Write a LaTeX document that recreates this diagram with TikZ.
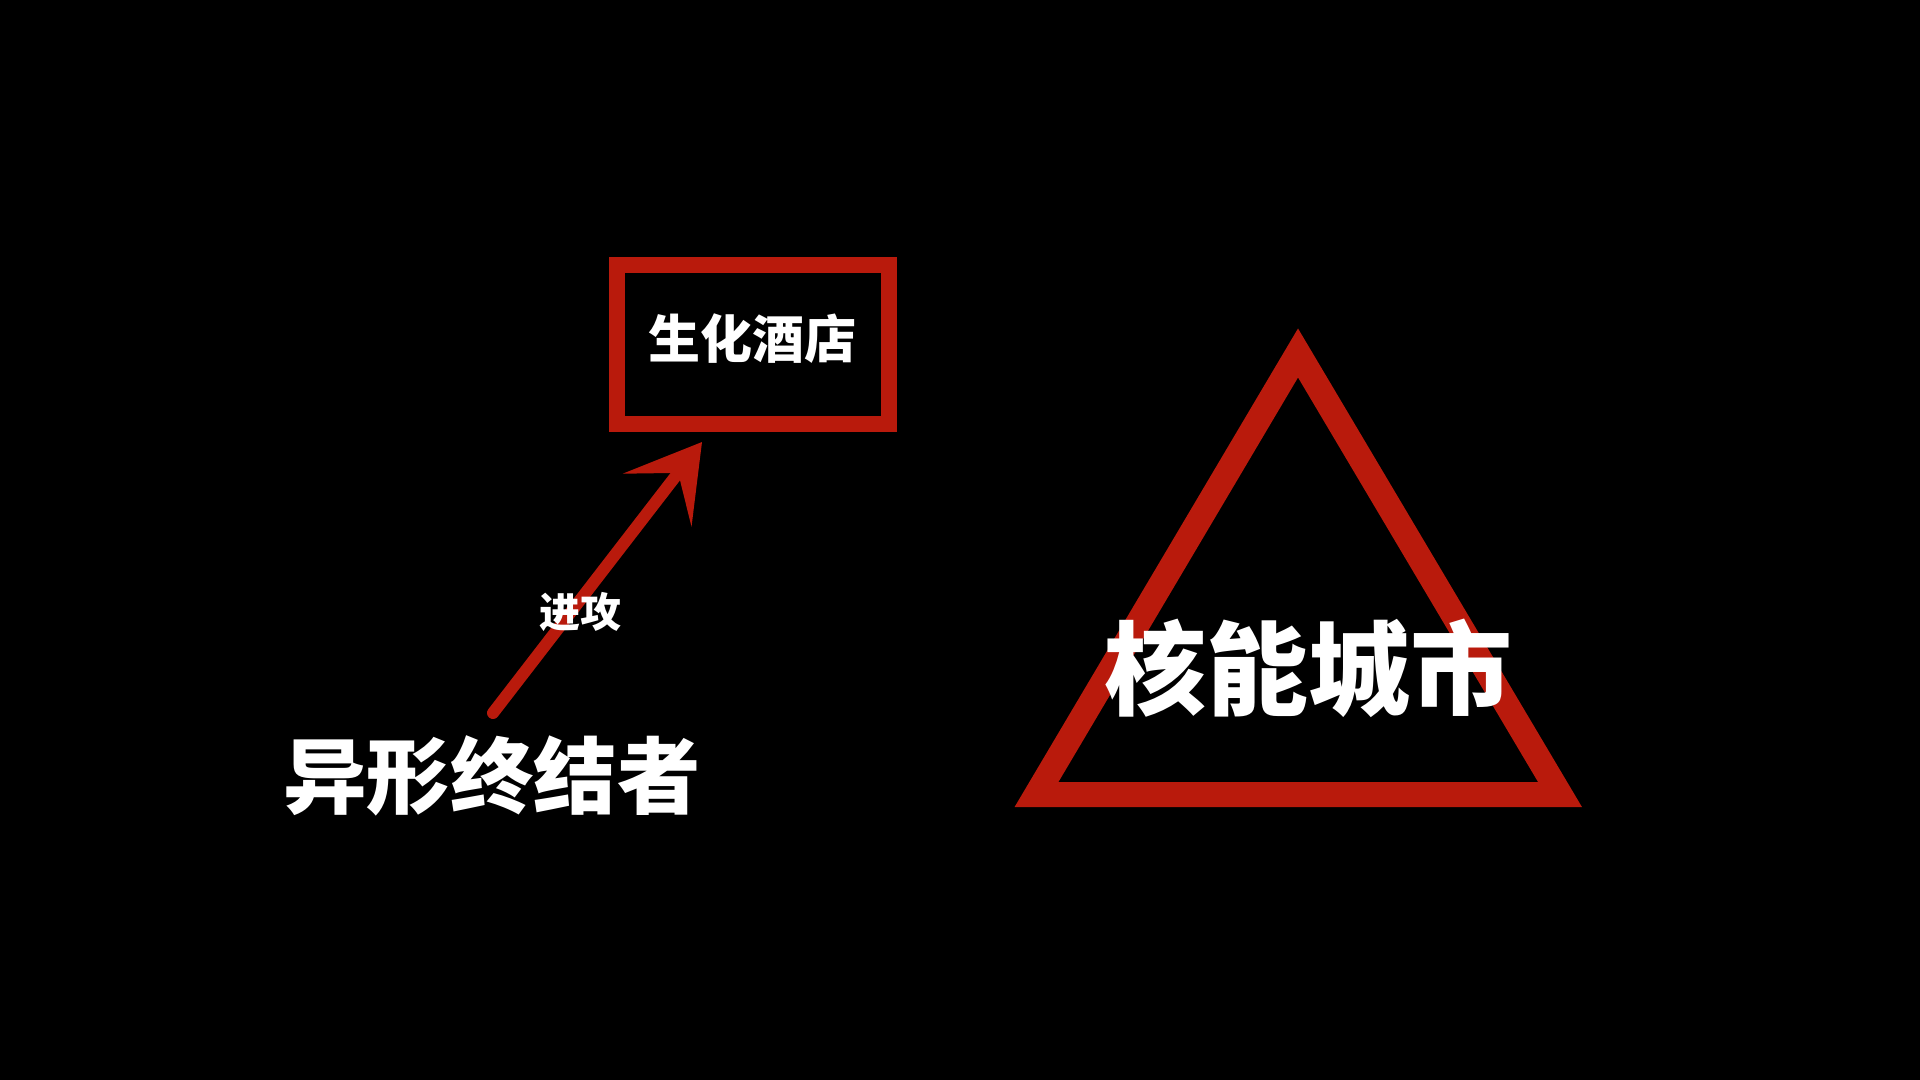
\documentclass[tikz,border=0pt]{standalone}
\usepackage{fontspec}
\setmainfont{Noto Sans CJK SC}
\usepackage{tikz}
\usetikzlibrary{arrows.meta, positioning}
\usetikzlibrary{calc}

\definecolor{alertred}{RGB}{185,26,12}

\tikzset{
  label text/.style={text=white, font=\bfseries, inner sep=0.75pt},
  place box/.style={draw=alertred, line width=7.75pt, minimum width=136pt, minimum height=79.5pt, inner sep=0pt},
  attack arrow/.style={draw=alertred, line width=6pt, line cap=round, -{Stealth[length=36.5pt, width=43pt, inset=17pt]}}
}

\begin{document}
\begin{tikzpicture}[x=0.5pt,y=-0.5pt]

%background, 1920 x 1080
\fill [black] (0,0) rectangle (1920,1080) ;

%Triangle [nuclear city]
\draw [alertred, line width=12.5pt, line join=miter] (1298,353) -- (1560,794.5) -- (1036.5,794.5) -- cycle ;

% Box Node
\node [place box] (hotel) at (753,344.5) {} ;
% Text Node
\node [label text, font=\bfseries\fontsize{26pt}{26pt}\selectfont] (hoteltext) at (752,339) {生化酒店} ;

%Straight Lines [attack]
\coordinate (alienstart) at (493,713) ;
\coordinate (hit) at (702,442) ;
\draw [attack arrow] (alienstart) -- (hit) ;

% Text Node
\node [label text, font=\bfseries\fontsize{20.5pt}{20.5pt}\selectfont] (attack) at (580,612) {进攻} ;
% Text Node
\node [label text, font=\bfseries\fontsize{41.7pt}{41.7pt}\selectfont] (alien) at (492,776) {异形终结者} ;
% Text Node
\node [label text, font=\bfseries\fontsize{51pt}{51pt}\selectfont] (city) at (1308,668) {核能城市} ;

\end{tikzpicture}
\end{document}
